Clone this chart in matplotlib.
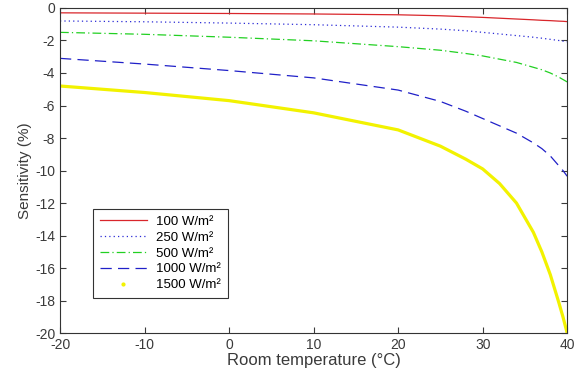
import numpy as np
import matplotlib.pyplot as plt
from matplotlib.lines import Line2D

plt.rcParams['font.family'] = ['Liberation Sans', 'DejaVu Sans']
plt.rcParams['axes.unicode_minus'] = False

temp = [-20, -10, 0, 10, 20, 25, 28, 30, 32, 34, 36, 37, 38, 39, 39.5, 40]

s100 = [-0.30, -0.32, -0.34, -0.37, -0.42, -0.48, -0.54, -0.58, -0.63, -0.68, -0.73, -0.76, -0.78, -0.81, -0.82, -0.84]
s250 = [-0.80, -0.85, -0.93, -1.03, -1.18, -1.30, -1.40, -1.50, -1.60, -1.70, -1.80, -1.86, -1.93, -2.00, -2.04, -2.08]
s500 = [-1.50, -1.62, -1.80, -2.02, -2.38, -2.60, -2.80, -2.95, -3.15, -3.35, -3.65, -3.80, -4.00, -4.25, -4.40, -4.55]
s1000 = [-3.10, -3.45, -3.85, -4.30, -5.05, -5.75, -6.35, -6.80, -7.25, -7.70, -8.30, -8.65, -9.10, -9.70, -10.00, -10.35]
s1500 = [-4.80, -5.20, -5.70, -6.45, -7.50, -8.50, -9.30, -9.90, -10.80, -12.00, -13.80, -15.00, -16.40, -18.10, -19.00, -20.00]

labels = ['100 W/m²', '250 W/m²', '500 W/m²', '1000 W/m²', '1500 W/m²']
colors = ['#d9262b', '#2a2ad6', '#22d022', '#2020c8', '#f2f200']
styles = ['-', (0, (1, 2.5)), (0, (7, 2.5, 1, 2.5)), (0, (9, 5)), '-']

fig = plt.figure(figsize=(5.77, 3.79), dpi=100)
ax = fig.add_axes([0.104, 0.121, 0.879, 0.858])

for s, c, ls in zip([s100, s250, s500, s1000], colors[:4], styles[:4]):
    ax.plot(temp, s, color=c, lw=0.9, linestyle=ls)
ax.plot(temp, s1500, color=colors[4], lw=2.3, linestyle='-', solid_capstyle='butt')

handles = [Line2D([], [], color=c, lw=0.9, linestyle=ls) for c, ls in zip(colors[:4], styles[:4])]
handles.append(Line2D([], [], color=colors[4], linestyle='none', marker='.', markersize=4))
leg = ax.legend(handles, labels, loc='lower left', bbox_to_anchor=(0.065, 0.108),
                borderaxespad=0, fontsize=9.5, frameon=True, fancybox=False,
                edgecolor='black', handlelength=3.6, borderpad=0.5, labelspacing=0.28,
                handletextpad=0.7)
leg.get_frame().set_linewidth(0.8)

ax.set_xlim(-20, 40)
ax.set_ylim(-20, 0)
ax.set_xticks(np.arange(-20, 41, 10))
ax.set_yticks(np.arange(-20, 1, 2))
ax.tick_params(direction='in', top=True, right=True, labelsize=10, colors='#3a3a3a',
               length=4, width=0.8)
for sp in ax.spines.values():
    sp.set_color('#333333')
    sp.set_linewidth(0.8)

ax.set_xlabel('Room temperature (°C)', fontsize=12, color='#3a3a3a', labelpad=1)
ax.set_ylabel('Sensitivity (%)', fontsize=11, color='#3a3a3a', labelpad=2)

fig.savefig('out.png', dpi=100)
